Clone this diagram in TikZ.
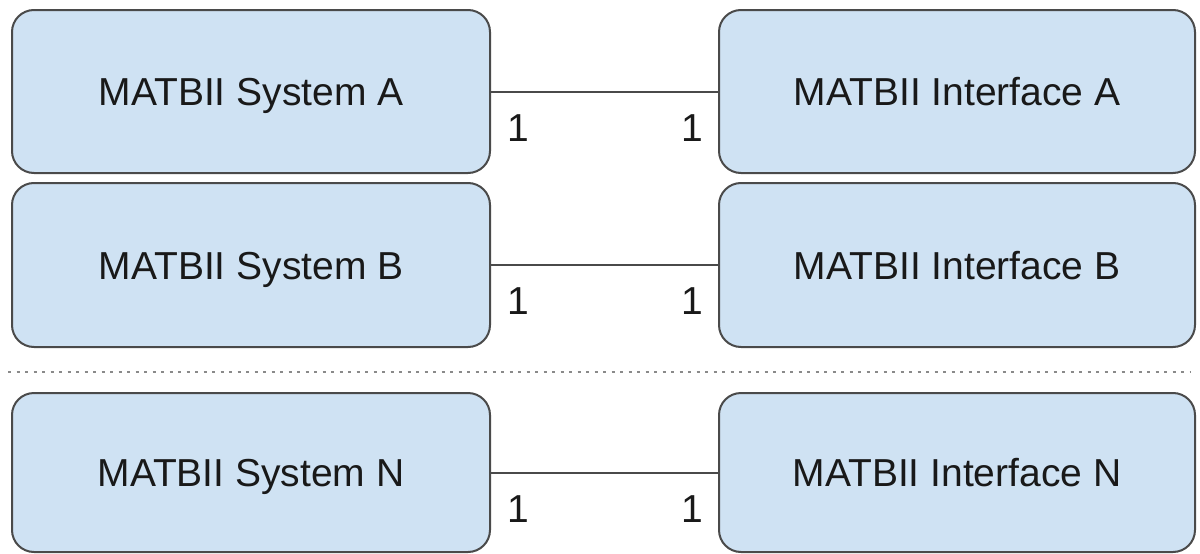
\documentclass[tikz,border=0pt]{standalone}
\usepackage{fontspec}
\setmainfont{Liberation Sans}
\definecolor{boxfill}{HTML}{CFE2F3}
\definecolor{boxline}{HTML}{4A4A4A}
\definecolor{dotline}{HTML}{8A8A8A}
\begin{document}
\begin{tikzpicture}[x=1pt,y=-1pt,
  sysbox/.style={draw=boxline, fill=boxfill, line width=2pt, rounded corners=22pt,
    inner sep=0pt, font=\fontsize{39}{47}\selectfont, text=black!90,
    text height=28pt, text depth=0pt},
  conn/.style={draw=boxline, line width=2pt},
  lbl/.style={font=\fontsize{39}{47}\selectfont, text=black!90, inner sep=0pt},
  sep/.style={draw=dotline, line width=2pt, dash pattern=on 3pt off 5.5pt}]
\useasboundingbox (0,0) rectangle (1200,554);
% row A
\node[sysbox, minimum width=478pt, minimum height=163pt] (sa) at (251,91.5) {MATBII System A};
\node[sysbox, minimum width=476pt, minimum height=163pt] (ia) at (957,91.5) {MATBII Interface A};
% row B
\node[sysbox, minimum width=478pt, minimum height=164pt] (sb) at (251,265) {MATBII System B};
\node[sysbox, minimum width=476pt, minimum height=164pt] (ib) at (957,265) {MATBII Interface B};
% row N
\node[sysbox, minimum width=478pt, minimum height=159pt] (sn) at (251,472.5) {MATBII System N};
\node[sysbox, minimum width=476pt, minimum height=159pt] (in) at (957,472.5) {MATBII Interface N};
% connectors
\draw[conn] (sa.east) -- (ia.west);
\draw[conn] (sb.east) -- (ib.west);
\draw[conn] (sn.east) -- (in.west);
% multiplicity labels
\node[lbl] (la1) at ([shift={(27,36.5)}]sa.east) {1};
\node[lbl] (la2) at ([shift={(-26,36.5)}]ia.west) {1};
\node[lbl] (lb1) at ([shift={(27,36.5)}]sb.east) {1};
\node[lbl] (lb2) at ([shift={(-26,36.5)}]ib.west) {1};
\node[lbl] (ln1) at ([shift={(27,36.5)}]sn.east) {1};
\node[lbl] (ln2) at ([shift={(-26,36.5)}]in.west) {1};
% separator
\coordinate (d1) at (8,372);
\coordinate (d2) at (1190,372);
\draw[sep] (d1) -- (d2);
\end{tikzpicture}
\end{document}
